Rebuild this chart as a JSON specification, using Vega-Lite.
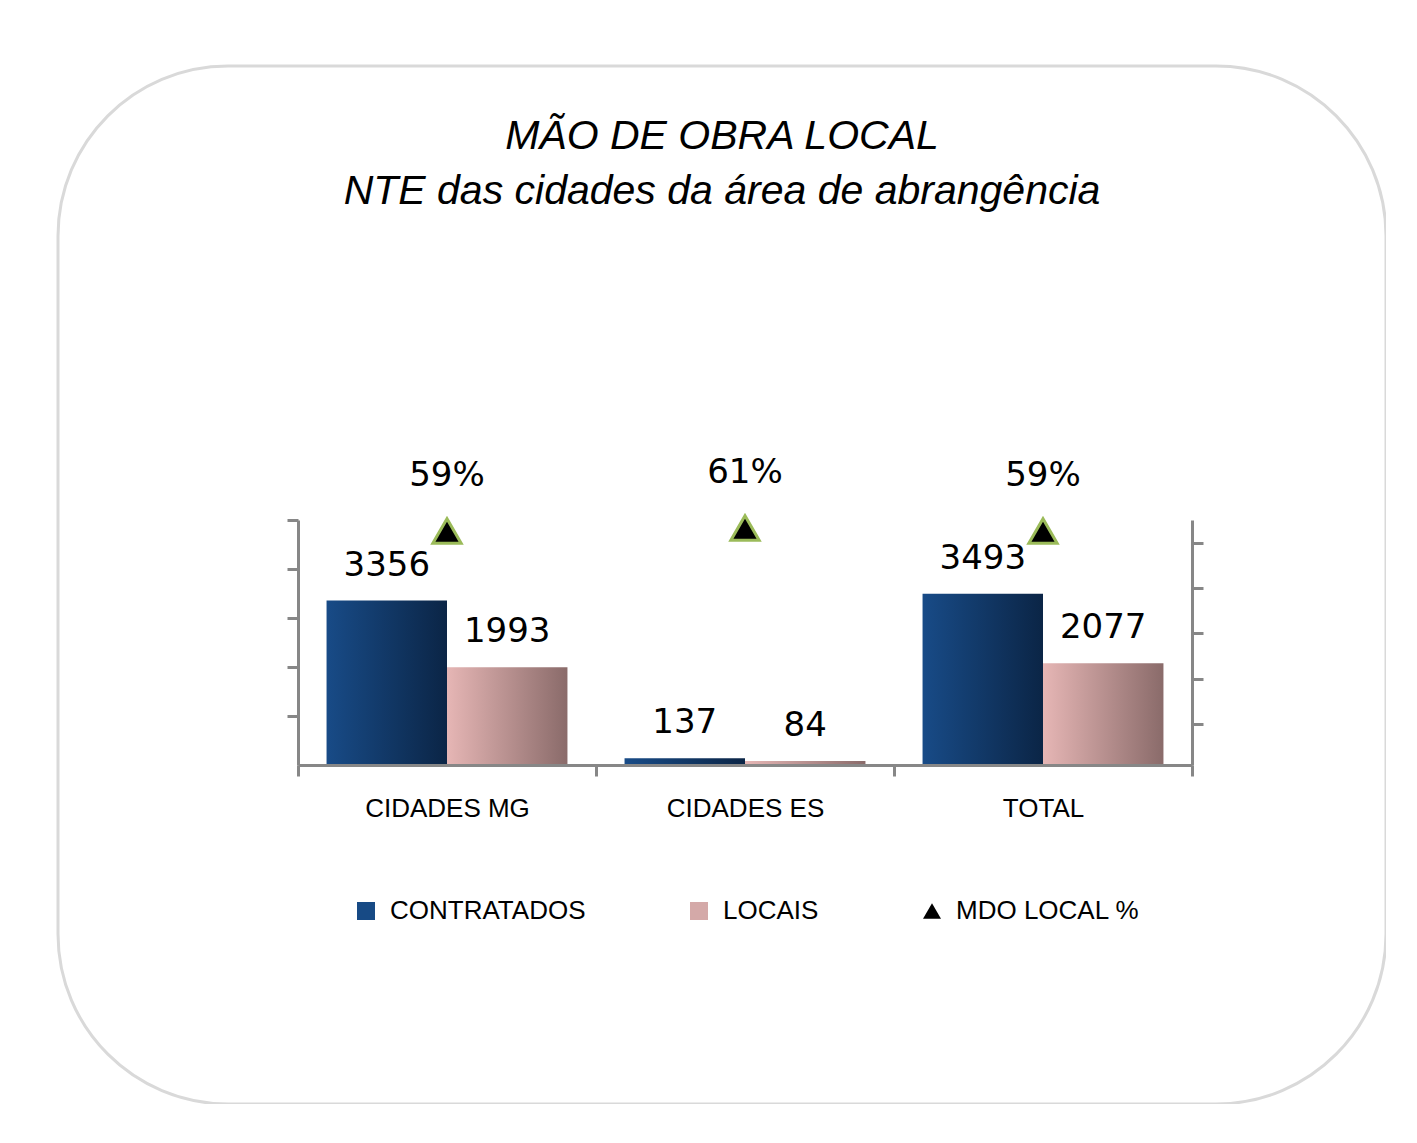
{
  "$schema": "https://vega.github.io/schema/vega-lite/v6.json",
  "width": 1328,
  "height": 1038,
  "autosize": {"type": "none"},
  "padding": {"left": 58, "top": 66, "right": 0, "bottom": 0},
  "background": "white",
  "config": {
    "view": {"stroke": "#d9d9d9", "strokeWidth": 3, "cornerRadius": 170, "fill": "white"}
  },
  "title": {
    "text": ["MÃO DE OBRA LOCAL", "NTE das cidades da área de abrangência"],
    "font": "Liberation Sans",
    "fontStyle": "italic",
    "fontWeight": "normal",
    "fontSize": 41,
    "color": "black",
    "anchor": "middle",
    "frame": "group",
    "offset": -147,
    "baseline": "top",
    "lineHeight": 55
  },
  "datasets": {
    "bars": [
      {"cat": "CIDADES MG", "serie": "CONTRATADOS", "valor": 3356},
      {"cat": "CIDADES MG", "serie": "LOCAIS", "valor": 1993},
      {"cat": "CIDADES ES", "serie": "CONTRATADOS", "valor": 137},
      {"cat": "CIDADES ES", "serie": "LOCAIS", "valor": 84},
      {"cat": "TOTAL", "serie": "CONTRATADOS", "valor": 3493},
      {"cat": "TOTAL", "serie": "LOCAIS", "valor": 2077}
    ],
    "pct": [
      {"cat": "CIDADES MG", "serie": "MDO LOCAL %", "pct": 0.59},
      {"cat": "CIDADES ES", "serie": "MDO LOCAL %", "pct": 0.61},
      {"cat": "TOTAL", "serie": "MDO LOCAL %", "pct": 0.59}
    ]
  },
  "layer": [
    {
      "data": {"name": "bars"},
      "encoding": {
        "x": {
          "field": "cat",
          "type": "nominal",
          "sort": ["CIDADES MG", "CIDADES ES", "TOTAL"],
          "scale": {"range": [240, 1134], "paddingInner": 0, "paddingOuter": 0},
          "axis": {
            "orient": "bottom",
            "offset": -339,
            "title": null,
            "labelAngle": 0,
            "labelFont": "Liberation Sans",
            "labelFontSize": 26,
            "labelColor": "black",
            "labelPadding": 19,
            "labelBaseline": "top",
            "labelLimit": 0,
            "tickBand": "extent",
            "tickSize": 11,
            "tickWidth": 3,
            "tickColor": "#878787",
            "domainColor": "#878787",
            "domainWidth": 3,
            "grid": false,
            "zindex": 1
          }
        },
        "xOffset": {
          "field": "serie",
          "type": "nominal",
          "sort": ["CONTRATADOS", "LOCAIS"],
          "scale": {"paddingInner": 0, "paddingOuter": 0.237}
        },
        "y": {
          "field": "valor",
          "type": "quantitative",
          "scale": {"domain": [0, 5000], "range": [699, 454], "nice": false},
          "axis": {
            "orient": "left",
            "offset": -240,
            "values": [1000, 2000, 3000, 4000, 5000],
            "labels": false,
            "title": null,
            "grid": false,
            "domainColor": "#878787",
            "domainWidth": 3,
            "tickColor": "#878787",
            "tickWidth": 3,
            "tickSize": 11
          }
        }
      },
      "layer": [
        {
          "mark": {"type": "bar"},
          "encoding": {
            "fill": {
              "condition": {
                "test": "datum.serie === 'CONTRATADOS'",
                "value": {"gradient": "linear", "x1": 0, "y1": 0, "x2": 1, "y2": 0,
                  "stops": [{"offset": 0, "color": "#184b87"}, {"offset": 1, "color": "#0b2546"}]}
              },
              "value": {"gradient": "linear", "x1": 0, "y1": 0, "x2": 1, "y2": 0,
                "stops": [{"offset": 0, "color": "#e6b6b5"}, {"offset": 1, "color": "#8a6b6a"}]}
            }
          }
        },
        {
          "mark": {"type": "text", "dy": -35, "font": "DejaVu Sans", "fontSize": 34, "color": "black"},
          "encoding": {"text": {"field": "valor", "type": "quantitative"}}
        }
      ]
    },
    {
      "data": {"name": "pct"},
      "encoding": {
        "x": {"field": "cat", "type": "nominal", "sort": ["CIDADES MG", "CIDADES ES", "TOTAL"]},
        "y": {
          "field": "pct",
          "type": "quantitative",
          "scale": {"domain": [-1, 0.665], "range": [699, 454], "nice": false, "zero": false},
          "axis": {
            "orient": "right",
            "offset": -194,
            "values": [-0.72, -0.4128, -0.1056, 0.2016, 0.5088],
            "labels": false,
            "title": null,
            "grid": false,
            "domainColor": "#878787",
            "domainWidth": 3,
            "tickColor": "#878787",
            "tickWidth": 3,
            "tickSize": 11
          }
        }
      },
      "layer": [
        {
          "mark": {"type": "point", "filled": true, "size": 800, "stroke": "#9bbb59", "strokeWidth": 3, "opacity": 1},
          "encoding": {
            "color": {
              "field": "serie",
              "type": "nominal",
              "scale": {"domain": ["CONTRATADOS", "LOCAIS", "MDO LOCAL %"], "range": ["#174a85", "#d4a9a8", "#000000"]},
              "legend": {
                "title": null,
                "orient": "none",
                "legendX": 295,
                "legendY": 832,
                "direction": "horizontal",
                "columnPadding": 100,
                "labelFont": "Liberation Sans",
                "labelFontSize": 26,
                "labelColor": "black",
                "labelOffset": 11,
                "labelLimit": 0,
                "symbolSize": 324,
                "symbolStrokeWidth": 0
              }
            },
            "shape": {
              "field": "serie",
              "type": "nominal",
              "scale": {"domain": ["CONTRATADOS", "LOCAIS", "MDO LOCAL %"], "range": ["square", "square", "triangle-up"]},
              "legend": {
                "title": null,
                "orient": "none",
                "legendX": 295,
                "legendY": 832,
                "direction": "horizontal",
                "columnPadding": 100,
                "labelFont": "Liberation Sans",
                "labelFontSize": 26,
                "labelColor": "black",
                "labelOffset": 11,
                "labelLimit": 0,
                "symbolSize": 324,
                "symbolStrokeWidth": 0
              }
            }
          }
        },
        {
          "mark": {"type": "text", "dy": -55, "font": "DejaVu Sans", "fontSize": 34, "color": "black"},
          "encoding": {"text": {"field": "pct", "type": "quantitative", "format": ".0%"}}
        }
      ]
    }
  ],
  "resolve": {"scale": {"y": "independent"}, "axis": {"y": "independent"}}
}
